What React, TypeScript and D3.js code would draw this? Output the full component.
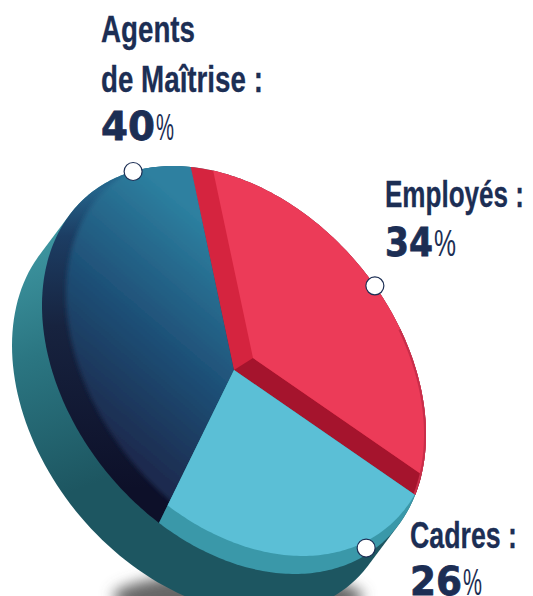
import React, { useLayoutEffect, useRef } from 'react';
import * as d3 from 'd3';

const categories = ['Agents de Maîtrise', 'Employés', 'Cadres'];
const shares = [40, 34, 26];
const markerAngles = [-31.7, 47.2, 135.1];
const markerRadii = [1, 1, 0.975];

const navy = '#1c2e54';
const W = 533;
const H = 596;

// the tilted disc: unit circle -> page pixels
const cx = 234;
const cy = 370;
const project = (deg: number, r = 1, dx = 0, dy = 0): [number, number] => {
    const a = (deg * Math.PI) / 180;
    const u = Math.sin(a) * r;
    const v = -Math.cos(a) * r;
    return [cx + 192 * u + dx, cy + 64.5 * u + 193.5 * v + dy];
};

const line = d3.line();
const toDeg = (rad: number) => (rad * 180) / Math.PI;

const pie = d3
    .pie<number>()
    .sort(null)
    .startAngle((-157 * Math.PI) / 180)
    .endAngle((203 * Math.PI) / 180);
const slices = pie(shares).map((s) => ({ from: toDeg(s.startAngle), to: toDeg(s.endAngle) }));

const arcPts = (s: { from: number; to: number }, dx = 0, dy = 0) => {
    const pts = d3.range(s.from, s.to, 1).map((d) => project(d, 1, dx, dy));
    pts.push(project(s.to, 1, dx, dy));
    return pts;
};
const sector = (s: { from: number; to: number }, dx = 0, dy = 0) =>
    line([[cx + dx, cy + dy], ...arcPts(s, dx, dy)]) + 'Z';

const discPts = d3.range(0, 360, 2).map((d) => project(d));
const rimPath = d3
    .range(0, 1.001, 0.02)
    .map((t) => line(discPts.map(([x, y]) => [x - 30 * t, y + 40 * t] as [number, number])) + 'Z')
    .join('');

const [navySlice, redSlice, cyanSlice] = slices;

// dark lower wall of the red slice
const redEdge = project(redSlice.to, 1.2);
const faceShift: [number, number] = [19, -12];
const redWall =
    line([
        [cx, cy],
        [cx + faceShift[0], cy + faceShift[1]],
        [redEdge[0] + faceShift[0], redEdge[1] + faceShift[1]],
        redEdge,
    ]) + 'Z';

// squeezes the text horizontally to the width it has in the picture
const FitText = ({ x, y, w, children, ...rest }: any) => {
    const ref = useRef<SVGTextElement>(null);
    useLayoutEffect(() => {
        const el = ref.current;
        if (!el) return;
        const natural = el.getComputedTextLength();
        el.setAttribute('transform', `translate(${x},${y}) scale(${w / natural},1)`);
    }, [x, y, w, children]);
    return (
        <text ref={ref} transform={`translate(${x},${y})`} {...rest}>
            {children}
        </text>
    );
};

const Label = ({ x, y, w, children }: any) => (
    <FitText
        x={x}
        y={y}
        w={w}
        fontFamily="'Liberation Sans', sans-serif"
        fontWeight="700"
        fontSize={37}
        fill={navy}
        stroke={navy}
        strokeWidth={0.3}
    >
        {children}
    </FitText>
);

const Pct = ({ x, y, value, w, pw }: any) => (
    <g fill={navy}>
        <FitText
            x={x}
            y={y}
            w={w}
            fontFamily="'DejaVu Sans', sans-serif"
            fontWeight="700"
            fontSize={39}
            stroke={navy}
            strokeWidth={0.8}
        >
            {value}
        </FitText>
        <FitText x={x + w + 1} y={y} w={pw - 1} fontFamily="'Liberation Sans', sans-serif" fontSize={37}>
            %
        </FitText>
    </g>
);

export default function App() {
    return (
        <svg
            width={W}
            height={H}
            viewBox={`0 0 ${W} ${H}`}
            style={{ position: 'absolute', left: 0, top: 0, display: 'block' }}
            role="img"
            aria-label={categories.join(', ')}
        >
            <defs>
                <filter id="soft" x="-30%" y="-100%" width="160%" height="300%">
                    <feGaussianBlur stdDeviation="7" />
                </filter>
                <filter id="edge" x="-10%" y="-10%" width="120%" height="120%">
                    <feGaussianBlur stdDeviation="2" />
                </filter>
                <linearGradient id="rimFill" gradientUnits="userSpaceOnUse" x1="40" y1="230" x2="130" y2="470">
                    <stop offset="0" stopColor="#3f98a3" />
                    <stop offset="0.45" stopColor="#2b7682" />
                    <stop offset="1" stopColor="#1d5661" />
                </linearGradient>
                <linearGradient id="navyFill" gradientUnits="userSpaceOnUse" x1="70" y1="400" x2="215" y2="230">
                    <stop offset="0" stopColor="#1b2b4f" />
                    <stop offset="0.5" stopColor="#1f5279" />
                    <stop offset="1" stopColor="#2d80a0" />
                </linearGradient>
                <linearGradient id="navyWall" gradientUnits="userSpaceOnUse" x1="100" y1="490" x2="90" y2="190">
                    <stop offset="0" stopColor="#0d1029" />
                    <stop offset="0.55" stopColor="#17233f" />
                    <stop offset="0.85" stopColor="#1c3d63" />
                    <stop offset="1" stopColor="#24638a" />
                </linearGradient>
                {slices.map((s, i) => (
                    <clipPath id={`slice${i}`} key={i}>
                        <path d={sector(s)} />
                    </clipPath>
                ))}
            </defs>

            <ellipse cx={238} cy={597} rx={125} ry={24} fill="#666" filter="url(#soft)" />
            <path d={rimPath} fill="url(#rimFill)" />

            {/* navy slice */}
            <path d={sector(navySlice)} fill="url(#navyWall)" />
            <g clipPath="url(#slice0)">
                <path d={sector(navySlice, 24, -12)} fill="url(#navyFill)" filter="url(#edge)" />
            </g>

            {/* red slice */}
            <path d={sector(redSlice)} fill="#d5243f" />
            <g clipPath="url(#slice1)">
                <path d={redWall} fill="#a5142d" />
                <path d={sector(redSlice, faceShift[0], faceShift[1])} fill="#ec3b58" />
                <path d={line(arcPts({ from: 60, to: redSlice.to })) ?? ''} fill="none" stroke="#c92e4a" strokeWidth={4} />
            </g>

            {/* cyan slice */}
            <path d={sector(cyanSlice)} fill="#3a98a9" />
            <g clipPath="url(#slice2)">
                <path d={sector(cyanSlice, 8, -18)} fill="#5bbfd6" />
            </g>

            {markerAngles.map((a, i) => {
                const [mx, my] = project(a, markerRadii[i]);
                return <circle key={i} cx={mx} cy={my} r={9} fill="#fff" stroke={navy} strokeWidth={1.2} />;
            })}

            <Label x={101} y={42} w={94}>Agents</Label>
            <Label x={101} y={92} w={162}>de Maîtrise :</Label>
            <Pct x={101} y={140} value="40" w={54} pw={19} />

            <Label x={385} y={207} w={139}>Employés :</Label>
            <Pct x={385} y={256} value="34" w={48} pw={23} />

            <Label x={410} y={548} w={107}>Cadres :</Label>
            <Pct x={410} y={595} value="26" w={52} pw={20} />
        </svg>
    );
}
